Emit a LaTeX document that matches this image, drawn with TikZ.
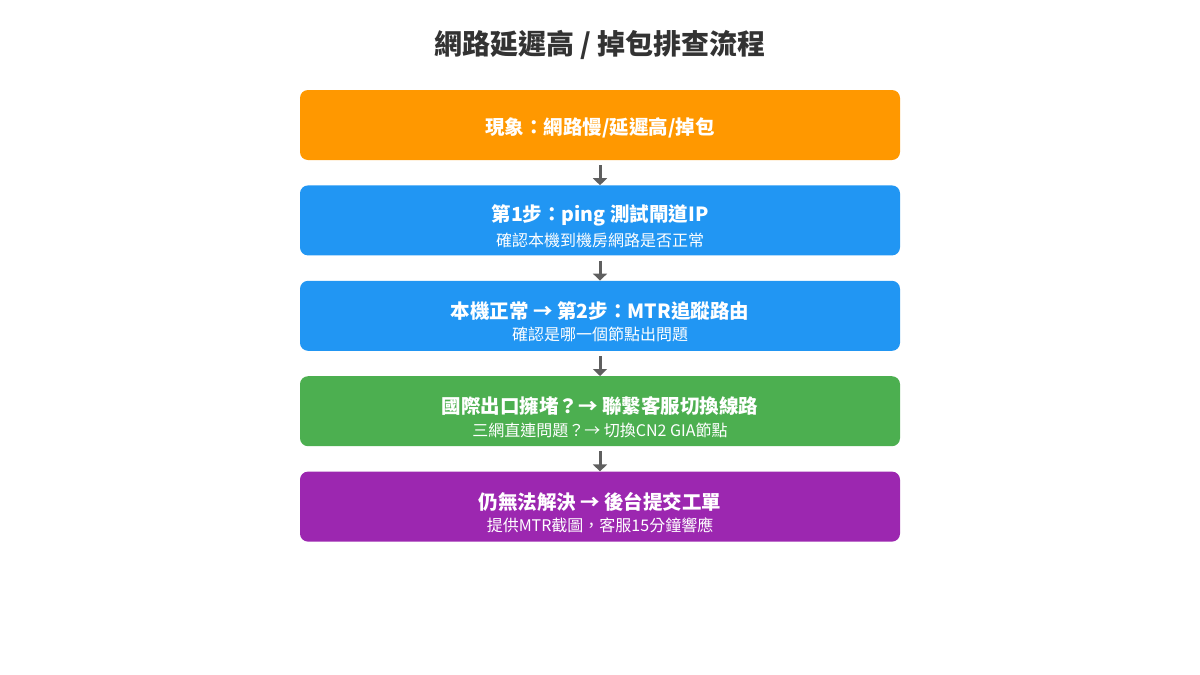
\documentclass[tikz,border=0pt]{standalone}
\usepackage{fontspec}
\setmainfont{Noto Sans CJK TC}
\usepackage{xcolor}
\usetikzlibrary{positioning, arrows.meta}
\definecolor{titlegray}{HTML}{333333}
\definecolor{arrowgray}{HTML}{5F5F5F}
\definecolor{boxorange}{HTML}{FF9800}
\definecolor{boxblue}{HTML}{2196F3}
\definecolor{boxgreen}{HTML}{4CAF50}
\definecolor{boxpurple}{HTML}{9C27B0}
\newcommand{\mainline}[2][29pt]{{\fontsize{19.5}{23}\selectfont\bfseries\rule{0pt}{#1}#2}}
\newcommand{\subline}[1]{{\fontsize{16}{19}\selectfont #1}}

\begin{document}
\begin{tikzpicture}[x=1pt, y=-1pt,
  stepbox/.style={rectangle, rounded corners=8pt, minimum width=600pt, minimum height=70pt,
    inner sep=0pt, text=white, align=center},
  flow/.style={draw=arrowgray, line width=3pt, -{Triangle[width=14pt,length=7pt]}}]
  \useasboundingbox (0,0) rectangle (1200,675);
  \node[text=titlegray, font=\fontsize{28}{34}\selectfont\bfseries] (title) at (600,45) {網路延遲高 / 掉包排查流程};
  \node[stepbox, fill=boxorange] (phenom) at (600,125) {\mainline[23pt]{現象：網路慢/延遲高/掉包}};
  \node[stepbox, fill=boxblue, below=25pt of phenom] (ping) {\mainline{第1步：ping 測試閘道IP}\\[6pt]\subline{確認本機到機房網路是否正常}};
  \node[stepbox, fill=boxblue, below=25pt of ping] (mtr) {\mainline{本機正常 → 第2步：MTR追蹤路由}\\[6pt]\subline{確認是哪一個節點出問題}};
  \node[stepbox, fill=boxgreen, below=25pt of mtr] (intl) {\mainline{國際出口擁堵？→ 聯繫客服切換線路}\\[6pt]\subline{三網直連問題？→ 切換CN2 GIA節點}};
  \node[stepbox, fill=boxpurple, below=25pt of intl] (ticket) {\mainline{仍無法解決 → 後台提交工單}\\[6pt]\subline{提供MTR截圖，客服15分鐘響應}};
  \draw[flow] ([yshift=-5pt]phenom.south) -- (ping.north);
  \draw[flow] ([yshift=-5pt]ping.south) -- (mtr.north);
  \draw[flow] ([yshift=-5pt]mtr.south) -- (intl.north);
  \draw[flow] ([yshift=-5pt]intl.south) -- (ticket.north);
\end{tikzpicture}
\end{document}
